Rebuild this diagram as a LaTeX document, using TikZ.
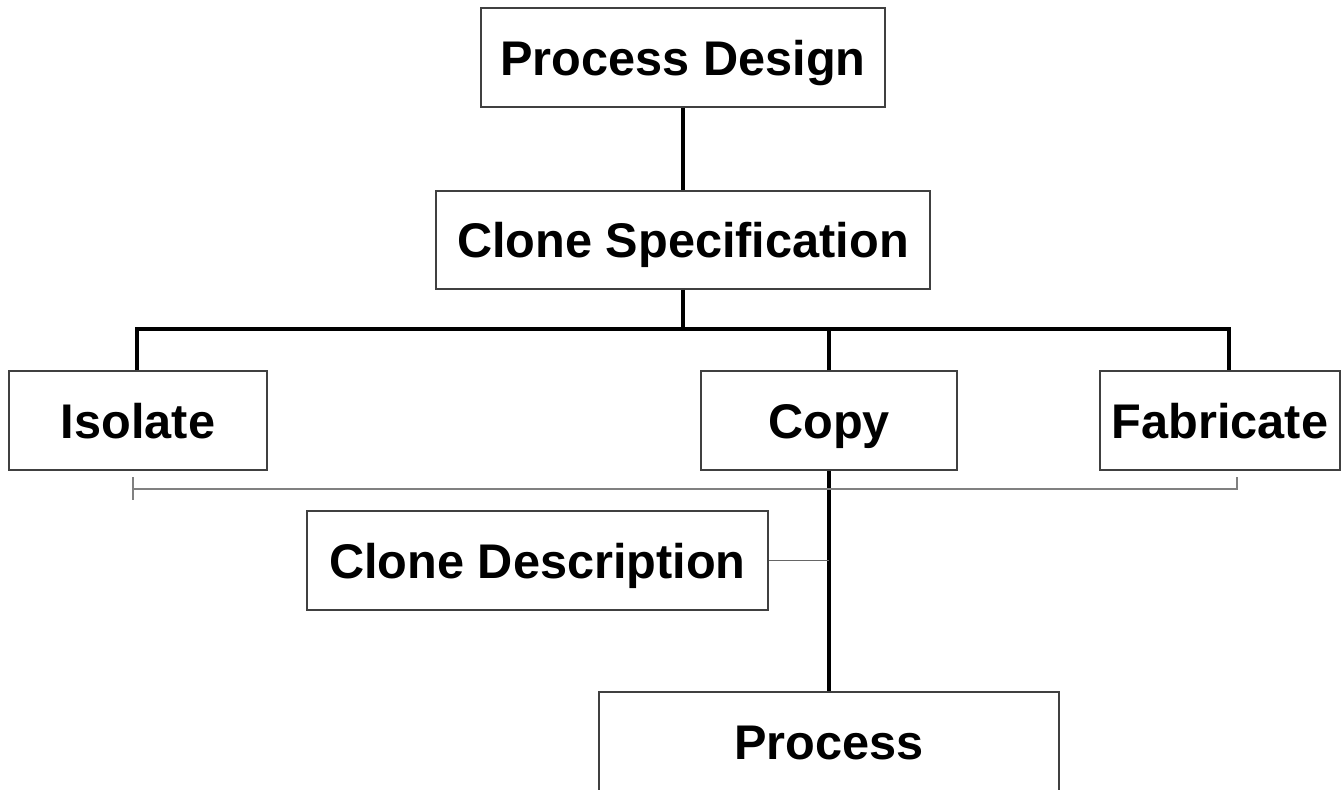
\documentclass[tikz,border=0pt]{standalone}
\usepackage{fontspec}
\setmainfont{Liberation Sans}

\begin{document}
\begin{tikzpicture}[x = 0.02cm, y = -0.02cm,
	box/.style = {draw = black!75, line width = 0.7pt, inner sep = 0pt, minimum height = 1.98cm, text height = 26pt, text depth = 6pt, font = \fontsize{27.7}{33}\selectfont\bfseries},
	trunk/.style = {line width = 1.8pt, black},
	bracket/.style = {line width = 0.85pt, black!50}]

	\useasboundingbox (0,0) rectangle (1343,790);

	% Boxes of the hierarchy

	\node [box, minimum width = 8.08cm] (design) at (683,57.5) {Process Design};
	\node [box, minimum width = 9.88cm, minimum height = 1.96cm] (spec) at (683,240) {Clone Specification};
	\node [box, minimum width = 5.16cm] (isolate) at (138,420.5) {Isolate};
	\node [box, minimum width = 5.12cm] (copy) at (829,420.5) {Copy};
	\node [box, minimum width = 4.8cm] (fabricate) at (1220,420.5) {Fabricate};
	\node [box, minimum width = 9.22cm] (description) at (537.5,560.5) {Clone Description};
	\node [box, minimum width = 9.2cm] (process) at (829,741.5) {Process};

	% Branch points

	\coordinate (busleft) at (137,329);
	\coordinate (busright) at (1229,329);
	\coordinate (gapleft) at (133,489);
	\coordinate (gapright) at (1237,489);

	% Thick connectors

	\draw [trunk] (design.south) -- (spec.north);
	\draw [trunk] (spec.south) -- (spec.south |- busleft);
	\draw [trunk] (isolate.north -| busleft) -- (busleft) -- (busright) -- (fabricate.north -| busright);
	\draw [trunk] (copy.north) -- (copy.north |- busleft);
	\draw [trunk] (copy.south) -- (process.north);

	% Thin grey lines

	\draw [bracket] ([yshift = 0.24cm] gapleft) -- ([yshift = -0.22cm] gapleft);
	\draw [bracket] (gapleft) -- (gapright) -- ([yshift = 0.24cm] gapright);
	\draw [bracket, black!60] (description.east) -- (description.east -| copy.south);

\end{tikzpicture}
\end{document}
